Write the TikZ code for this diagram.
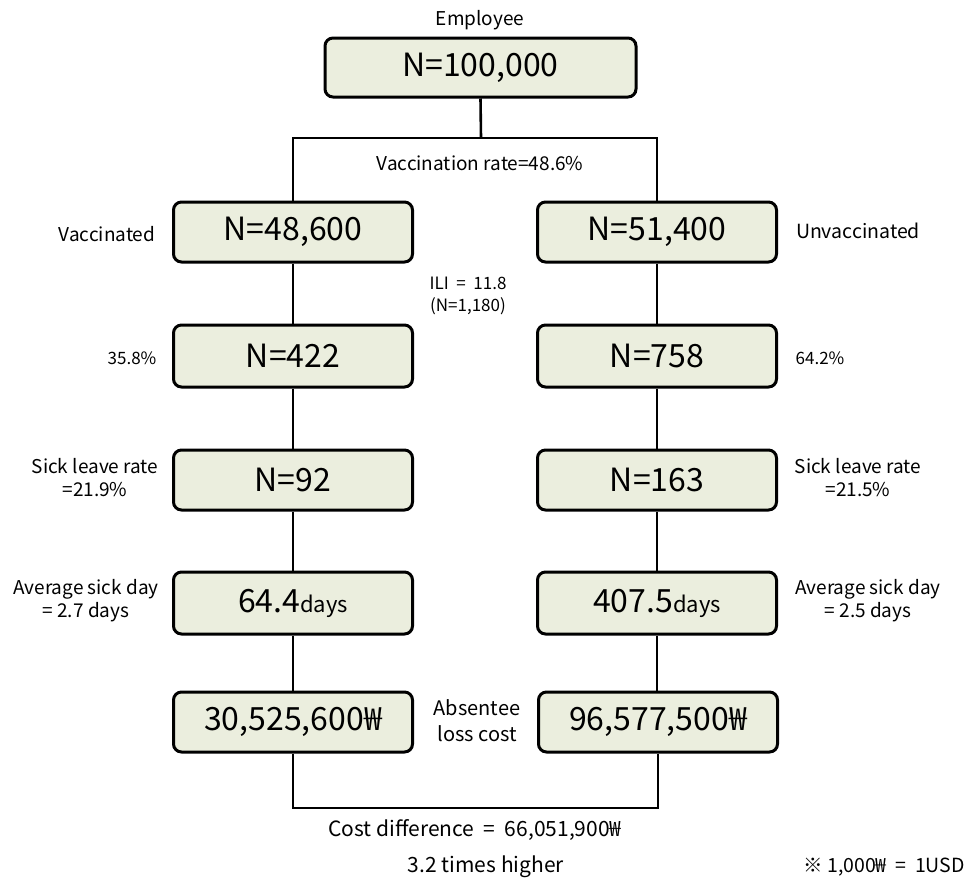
\documentclass[tikz,border=0pt]{standalone}
\usepackage{fontspec}
\setmainfont{Noto Sans CJK KR}
\definecolor{boxfill}{RGB}{235,238,222}
\tikzset{
  fbox/.style={draw=black, line width=3pt, rounded corners=8pt, fill=boxfill,
    minimum width=239pt, minimum height=60pt, inner sep=0pt,
    font=\fontsize{32}{36}\selectfont},
  lbl/.style={font=\fontsize{19}{23}\selectfont, align=center, inner sep=0pt},
  slbl/.style={font=\fontsize{17}{22}\selectfont, align=center, inner sep=0pt},
  blbl/.style={font=\fontsize{21}{25}\selectfont, align=center, inner sep=0pt},
  conn/.style={line width=2.6pt}
}
\newcommand{\smalldays}{{\fontsize{22}{24}\selectfont days}}
\begin{document}
\begin{tikzpicture}[x=1pt,y=-1pt]
\useasboundingbox (0,0) rectangle (971,884);
% boxes
\node[fbox, minimum width=311pt, minimum height=59pt] (top) at (480.5,67.5) {N=100,000};
\node[fbox] (vL) at (293,232) {N=48,600};
\node[fbox] (vR) at (657,232) {N=51,400};
\node[fbox, minimum height=62pt] (iL) at (293,356) {N=422};
\node[fbox, minimum height=62pt] (iR) at (657,356) {N=758};
\node[fbox] (sL) at (293,480) {N=92};
\node[fbox] (sR) at (657,480) {N=163};
\node[fbox, minimum height=62pt] (dL) at (293,603) {64.4\smalldays};
\node[fbox, minimum height=62pt] (dR) at (657,603) {407.5\smalldays};
\node[fbox] (cL) at (293,722) {30,525,600₩};
\node[fbox] (cR) at (658,722) {96,577,500₩};
% coordinates
\coordinate (split) at (481,138);
\coordinate (join) at (480,808);
% connectors
\draw[conn] (top.south) -- (split);
\draw[conn] (vL.north) |- (split) -| (vR.north);
\draw[conn] (vL.south) -- (iL.north);
\draw[conn] (vR.south) -- (iR.north);
\draw[conn] (iL.south) -- (sL.north);
\draw[conn] (iR.south) -- (sR.north);
\draw[conn] (sL.south) -- (dL.north);
\draw[conn] (sR.south) -- (dR.north);
\draw[conn] (dL.south) -- (cL.north);
\draw[conn] (dR.south) -- (dR.south |- cR.north);
\draw[conn] (cL.south) |- (join) -| (cR.south);
% labels
\node[lbl] (employee) at (480,20) {Employee};
\node[lbl] (vrate) at (480,163) {Vaccination rate=48.6\%};
\node[lbl] (vacc) at (107,234) {Vaccinated};
\node[lbl, font=\fontsize{19.5}{23}\selectfont] (unvacc) at (858,231) {Unvaccinated};
\node[slbl] (ili) at (468,296) {ILI ~=~ 11.8\\(N=1,180)};
\node[slbl] (pL) at (132,358) {35.8\%};
\node[slbl] (pR) at (820,358) {64.2\%};
\node[lbl] (slL) at (95,478) {Sick leave rate\\=21.9\%};
\node[lbl] (slR) at (858,478) {Sick leave rate\\=21.5\%};
\node[lbl] (adL) at (86,601) {Average sick day\\= 2.7 days};
\node[lbl] (adR) at (868,601) {Average sick day\\= 2.5 days};
\node[lbl, font=\fontsize{20}{26}\selectfont] (abs) at (477,721) {Absentee\\loss cost};
\node[blbl] (diff) at (475,830) {Cost difference ~=~ 66,051,900₩};
\node[blbl] (times) at (486,867) {3.2 times higher};
\node[lbl, font=\fontsize{19.5}{23}\selectfont] (note) at (884,867) {※ 1,000₩ ~=~ 1USD};
\end{tikzpicture}
\end{document}
